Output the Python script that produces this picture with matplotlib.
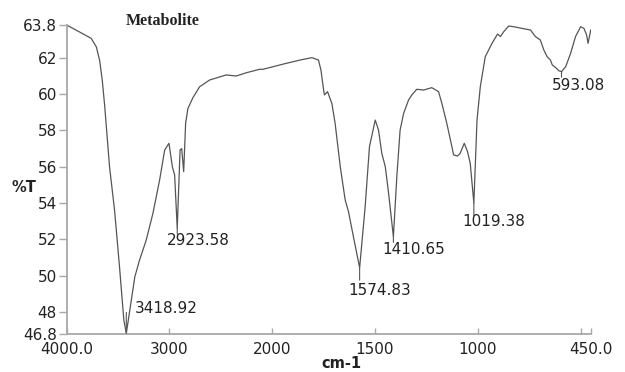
import numpy as np
import matplotlib
matplotlib.use('Agg')
import matplotlib.pyplot as plt

# FTIR spectrum (wavenumber, %T)
wavenumber = [4000, 3760, 3711, 3679, 3653, 3630, 3582, 3533, 3485, 3443,
              3418.92, 3370, 3336, 3290, 3225, 3160, 3095, 3046, 3004, 2971,
              2949, 2923.58, 2896, 2880, 2861, 2842, 2820, 2771, 2706, 2609,
              2447, 2350, 2252, 2123, 2090, 1945, 1864, 1807, 1775, 1763,
              1750, 1746, 1731, 1710, 1694, 1669, 1645, 1629, 1605, 1574.83,
              1548, 1527, 1499, 1483, 1467, 1450, 1434, 1410.65, 1394, 1378,
              1361, 1337, 1321, 1297, 1264, 1224, 1191, 1175, 1151, 1126,
              1118, 1099, 1086, 1066, 1050, 1037, 1019.38, 1004, 988, 964,
              931, 904, 890, 874, 850, 825, 785, 744, 720, 696,
              679, 663, 647, 638, 617, 606, 593.08, 573, 549, 525,
              500, 484, 471, 464, 451]
transmittance = [63.8, 63.06, 62.6, 61.87, 60.77, 59.4, 56.0, 53.6, 50.5, 47.57,
                 46.84, 48.67, 49.95, 50.87, 51.97, 53.44, 55.27, 56.92, 57.29, 56.0,
                 55.55, 52.61, 56.92, 57.0, 55.73, 58.39, 59.2, 59.8, 60.4, 60.77,
                 61.05, 60.99, 61.17, 61.36, 61.36, 61.65, 61.87, 62.0, 61.87, 61.32,
                 60.22, 59.95, 60.13, 59.49, 58.39, 56.0, 54.17, 53.53, 52.15, 50.45,
                 53.8, 57.1, 58.57, 58.02, 56.74, 56.0, 54.54, 52.15, 55.45, 58.02,
                 58.93, 59.67, 59.95, 60.26, 60.22, 60.35, 60.13, 59.49, 58.39, 57.1,
                 56.65, 56.59, 56.74, 57.29, 56.83, 56.19, 54.0, 58.57, 60.4, 62.05,
                 62.79, 63.3, 63.16, 63.43, 63.74, 63.7, 63.61, 63.52, 63.16, 62.97,
                 62.42, 62.05, 61.87, 61.6, 61.41, 61.28, 61.23, 61.5, 62.23, 63.16,
                 63.7, 63.61, 63.25, 62.79, 63.52]

peak_x = [3418.92, 2923.58, 1574.83, 1410.65, 1019.38, 593.08]
peak_y = [46.84, 52.61, 50.45, 52.15, 54.0, 61.23]
peak_labels = ['3418.92', '2923.58', '1574.83', '1410.65', '1019.38', '593.08']

xticks = [4000, 3000, 2000, 1500, 1000, 500, 450]
xticklabels = ['4000.0', '3000', '2000', '1500', '1000', '', '450.0']
yticks = [46.8, 48, 50, 52, 54, 56, 58, 60, 62, 63.8]
yticklabels = ['46.8', '48', '50', '52', '54', '56', '58', '60', '62', '63.8']

plt.rcParams['font.family'] = ['DejaVu Sans']

AXIS_GREY = '#a8a8a8'
LINE_GREY = '#555555'
TEXT = '#222222'


# spectrometer-style axis: region above 2000 cm-1 is compressed by 2x
def _fwd(x):
    x = np.asarray(x, dtype=float)
    return np.where(x > 2000, 2000 + (x - 2000) / 2.0, x)


def _inv(t):
    t = np.asarray(t, dtype=float)
    return np.where(t > 2000, 2000 + (t - 2000) * 2.0, t)


fig = plt.figure(figsize=(6.25, 3.72), dpi=100)
ax = fig.add_axes([0.1065, 0.102, 0.839, 0.831])
ax.set_xscale('function', functions=(_fwd, _inv))

ax.plot(wavenumber, transmittance, color=LINE_GREY, lw=0.9)

ax.set_xlim(4000, 450)
ax.set_ylim(46.8, 63.8)

ax.set_xticks(xticks)
ax.set_xticklabels(xticklabels)
ax.set_yticks(yticks)
ax.set_yticklabels(yticklabels)
ax.minorticks_off()

for side in ('top', 'right'):
    ax.spines[side].set_visible(False)
for side in ('left', 'bottom'):
    ax.spines[side].set_color(AXIS_GREY)
    ax.spines[side].set_linewidth(1.3)

ax.tick_params(axis='y', direction='out', length=6, width=1, color=AXIS_GREY,
               labelsize=11, labelcolor=TEXT, pad=1)
ax.tick_params(axis='x', direction='in', length=4, width=1, color=AXIS_GREY,
               labelsize=11, labelcolor=TEXT, pad=6)

# peak labels: offsets (points) of the label centre, and line length
label_offsets = [(6, 18), (15, -8.5), (14.5, -16.5), (14.5, -9.5), (14.5, -13.5), (12.5, -10)]
tick_len = [15, -4, -9, -4, -9, -4]

for px, py, lab, (dx, dy), tl in zip(peak_x, peak_y, peak_labels, label_offsets, tick_len):
    ax.annotate('', xy=(px, py), xytext=(0, tl), textcoords='offset points',
                arrowprops=dict(arrowstyle='-', color=LINE_GREY, lw=0.8,
                                shrinkA=0, shrinkB=0))
    ha = 'left' if dy > 0 else 'center'
    ax.annotate(lab, xy=(px, py), xytext=(dx, dy), textcoords='offset points',
                ha=ha, va='center', fontsize=11, color=TEXT)

fig.text(0.261, 0.944, 'Metabolite', family='Liberation Serif', weight='bold',
         fontsize=11.5, ha='center', va='center', color=TEXT)
fig.text(0.038, 0.497, '%T', weight='bold', fontsize=10.5, ha='center', va='center',
         color=TEXT)
fig.text(0.547, 0.022, 'cm-1', weight='bold', fontsize=10.5, ha='center', va='center',
         color=TEXT)

fig.savefig('out.png', dpi=100)
